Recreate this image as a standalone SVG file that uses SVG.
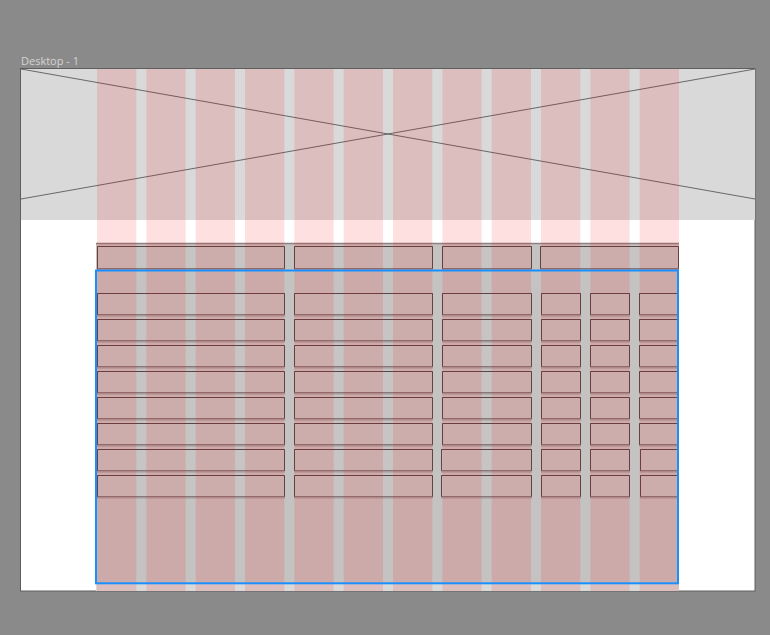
<svg xmlns="http://www.w3.org/2000/svg" width="770" height="635" viewBox="0 0 770 635">
  <defs>
    <style>
      .label { font-family: "Open Sans", "Liberation Sans", sans-serif; font-size: 11px; fill: #d4d4d4; }
      .col { fill: rgba(255,0,0,0.12); }
      .cell { fill: rgba(255,255,255,0.04); stroke: rgba(40,20,20,0.35); stroke-width: 1; }
      .edge { fill: none; stroke: #5a4646; stroke-width: 1; }
      .shadow { stroke: rgba(60,20,20,0.22); stroke-width: 2; }
      .diag { stroke: #4a4a4a; stroke-width: 0.8; }
    </style>
    <g id="cellshape"></g>
  </defs>

  <rect x="0" y="0" width="770" height="635" fill="#8a8a8a"/>

  <g id="artboard">
    <text class="label" x="21" y="65">Desktop - 1</text>
    <rect x="20.5" y="68.5" width="734.5" height="522.5" fill="#ffffff" stroke="#5e5e5e" stroke-width="1"/>
  </g>

  <g id="hero">
    <rect x="21" y="69" width="734" height="151" fill="#d9d9d9"/>
    <line class="diag" x1="21" y1="69" x2="755" y2="199"/>
    <line class="diag" x1="755" y1="69" x2="21" y2="199"/>
  </g>

  <g id="table-bg">
    <rect x="96" y="243" width="583" height="340" fill="#c5c2c2"/>
    <rect x="96" y="583" width="583" height="8" fill="#d9d9d9"/>
    <line x1="96" y1="243.5" x2="679" y2="243.5" stroke="#8f8282" stroke-width="1.5"/>
  </g>

  <g id="header-row">
    <g id="h1"><rect class="cell" x="97.5" y="246.5" width="187" height="22"/><path class="edge" d="M97.5 268.5V246.5H284.5V268.5"/><line class="shadow" x1="97" y1="269.5" x2="285" y2="269.5"/></g>
    <g id="h2"><rect class="cell" x="294.5" y="246.5" width="138" height="22"/><path class="edge" d="M294.5 268.5V246.5H432.5V268.5"/><line class="shadow" x1="294" y1="269.5" x2="433" y2="269.5"/></g>
    <g id="h3"><rect class="cell" x="442.5" y="246.5" width="89" height="22"/><path class="edge" d="M442.5 268.5V246.5H531.5V268.5"/><line class="shadow" x1="442" y1="269.5" x2="532" y2="269.5"/></g>
    <g id="h4"><rect class="cell" x="540.5" y="246.5" width="138" height="22"/><path class="edge" d="M540.5 268.5V246.5H678.5V268.5"/><line class="shadow" x1="540" y1="269.5" x2="679" y2="269.5"/></g>
  </g>

  <g id="rows">
    <g id="row1">
      <rect class="cell" x="97.5" y="293.5" width="187" height="21"/><path class="edge" d="M97.5 314.5V293.5H284.5V314.5"/><line class="shadow" x1="97" y1="315.5" x2="285" y2="315.5"/>
      <rect class="cell" x="294.5" y="293.5" width="138" height="21"/><path class="edge" d="M294.5 314.5V293.5H432.5V314.5"/><line class="shadow" x1="294" y1="315.5" x2="433" y2="315.5"/>
      <rect class="cell" x="442.5" y="293.5" width="89" height="21"/><path class="edge" d="M442.5 314.5V293.5H531.5V314.5"/><line class="shadow" x1="442" y1="315.5" x2="532" y2="315.5"/>
      <rect class="cell" x="541.5" y="293.5" width="39" height="21"/><path class="edge" d="M541.5 314.5V293.5H580.5V314.5"/><line class="shadow" x1="541" y1="315.5" x2="581" y2="315.5"/>
      <rect class="cell" x="590.5" y="293.5" width="39" height="21"/><path class="edge" d="M590.5 314.5V293.5H629.5V314.5"/><line class="shadow" x1="590" y1="315.5" x2="630" y2="315.5"/>
      <rect class="cell" x="639.5" y="293.5" width="39" height="21"/><path class="edge" d="M639.5 314.5V293.5H678.5V314.5"/><line class="shadow" x1="639" y1="315.5" x2="679" y2="315.5"/>
    </g>
    <g id="row2" transform="translate(0,26)">
      <rect class="cell" x="97.5" y="293.5" width="187" height="21"/><path class="edge" d="M97.5 314.5V293.5H284.5V314.5"/><line class="shadow" x1="97" y1="315.5" x2="285" y2="315.5"/>
      <rect class="cell" x="294.5" y="293.5" width="138" height="21"/><path class="edge" d="M294.5 314.5V293.5H432.5V314.5"/><line class="shadow" x1="294" y1="315.5" x2="433" y2="315.5"/>
      <rect class="cell" x="442.5" y="293.5" width="89" height="21"/><path class="edge" d="M442.5 314.5V293.5H531.5V314.5"/><line class="shadow" x1="442" y1="315.5" x2="532" y2="315.5"/>
      <rect class="cell" x="541.5" y="293.5" width="39" height="21"/><path class="edge" d="M541.5 314.5V293.5H580.5V314.5"/><line class="shadow" x1="541" y1="315.5" x2="581" y2="315.5"/>
      <rect class="cell" x="590.5" y="293.5" width="39" height="21"/><path class="edge" d="M590.5 314.5V293.5H629.5V314.5"/><line class="shadow" x1="590" y1="315.5" x2="630" y2="315.5"/>
      <rect class="cell" x="639.5" y="293.5" width="39" height="21"/><path class="edge" d="M639.5 314.5V293.5H678.5V314.5"/><line class="shadow" x1="639" y1="315.5" x2="679" y2="315.5"/>
    </g>
    <g id="row3" transform="translate(0,52)">
      <rect class="cell" x="97.5" y="293.5" width="187" height="21"/><path class="edge" d="M97.5 314.5V293.5H284.5V314.5"/><line class="shadow" x1="97" y1="315.5" x2="285" y2="315.5"/>
      <rect class="cell" x="294.5" y="293.5" width="138" height="21"/><path class="edge" d="M294.5 314.5V293.5H432.5V314.5"/><line class="shadow" x1="294" y1="315.5" x2="433" y2="315.5"/>
      <rect class="cell" x="442.5" y="293.5" width="89" height="21"/><path class="edge" d="M442.5 314.5V293.5H531.5V314.5"/><line class="shadow" x1="442" y1="315.5" x2="532" y2="315.5"/>
      <rect class="cell" x="541.5" y="293.5" width="39" height="21"/><path class="edge" d="M541.5 314.5V293.5H580.5V314.5"/><line class="shadow" x1="541" y1="315.5" x2="581" y2="315.5"/>
      <rect class="cell" x="590.5" y="293.5" width="39" height="21"/><path class="edge" d="M590.5 314.5V293.5H629.5V314.5"/><line class="shadow" x1="590" y1="315.5" x2="630" y2="315.5"/>
      <rect class="cell" x="639.5" y="293.5" width="39" height="21"/><path class="edge" d="M639.5 314.5V293.5H678.5V314.5"/><line class="shadow" x1="639" y1="315.5" x2="679" y2="315.5"/>
    </g>
    <g id="row4" transform="translate(0,78)">
      <rect class="cell" x="97.5" y="293.5" width="187" height="21"/><path class="edge" d="M97.5 314.5V293.5H284.5V314.5"/><line class="shadow" x1="97" y1="315.5" x2="285" y2="315.5"/>
      <rect class="cell" x="294.5" y="293.5" width="138" height="21"/><path class="edge" d="M294.5 314.5V293.5H432.5V314.5"/><line class="shadow" x1="294" y1="315.5" x2="433" y2="315.5"/>
      <rect class="cell" x="442.5" y="293.5" width="89" height="21"/><path class="edge" d="M442.5 314.5V293.5H531.5V314.5"/><line class="shadow" x1="442" y1="315.5" x2="532" y2="315.5"/>
      <rect class="cell" x="541.5" y="293.5" width="39" height="21"/><path class="edge" d="M541.5 314.5V293.5H580.5V314.5"/><line class="shadow" x1="541" y1="315.5" x2="581" y2="315.5"/>
      <rect class="cell" x="590.5" y="293.5" width="39" height="21"/><path class="edge" d="M590.5 314.5V293.5H629.5V314.5"/><line class="shadow" x1="590" y1="315.5" x2="630" y2="315.5"/>
      <rect class="cell" x="639.5" y="293.5" width="39" height="21"/><path class="edge" d="M639.5 314.5V293.5H678.5V314.5"/><line class="shadow" x1="639" y1="315.5" x2="679" y2="315.5"/>
    </g>
    <g id="row5" transform="translate(0,104)">
      <rect class="cell" x="97.5" y="293.5" width="187" height="21"/><path class="edge" d="M97.5 314.5V293.5H284.5V314.5"/><line class="shadow" x1="97" y1="315.5" x2="285" y2="315.5"/>
      <rect class="cell" x="294.5" y="293.5" width="138" height="21"/><path class="edge" d="M294.5 314.5V293.5H432.5V314.5"/><line class="shadow" x1="294" y1="315.5" x2="433" y2="315.5"/>
      <rect class="cell" x="442.5" y="293.5" width="89" height="21"/><path class="edge" d="M442.5 314.5V293.5H531.5V314.5"/><line class="shadow" x1="442" y1="315.5" x2="532" y2="315.5"/>
      <rect class="cell" x="541.5" y="293.5" width="39" height="21"/><path class="edge" d="M541.5 314.5V293.5H580.5V314.5"/><line class="shadow" x1="541" y1="315.5" x2="581" y2="315.5"/>
      <rect class="cell" x="590.5" y="293.5" width="39" height="21"/><path class="edge" d="M590.5 314.5V293.5H629.5V314.5"/><line class="shadow" x1="590" y1="315.5" x2="630" y2="315.5"/>
      <rect class="cell" x="639.5" y="293.5" width="39" height="21"/><path class="edge" d="M639.5 314.5V293.5H678.5V314.5"/><line class="shadow" x1="639" y1="315.5" x2="679" y2="315.5"/>
    </g>
    <g id="row6" transform="translate(0,130)">
      <rect class="cell" x="97.5" y="293.5" width="187" height="21"/><path class="edge" d="M97.5 314.5V293.5H284.5V314.5"/><line class="shadow" x1="97" y1="315.5" x2="285" y2="315.5"/>
      <rect class="cell" x="294.5" y="293.5" width="138" height="21"/><path class="edge" d="M294.5 314.5V293.5H432.5V314.5"/><line class="shadow" x1="294" y1="315.5" x2="433" y2="315.5"/>
      <rect class="cell" x="442.5" y="293.5" width="89" height="21"/><path class="edge" d="M442.5 314.5V293.5H531.5V314.5"/><line class="shadow" x1="442" y1="315.5" x2="532" y2="315.5"/>
      <rect class="cell" x="541.5" y="293.5" width="39" height="21"/><path class="edge" d="M541.5 314.5V293.5H580.5V314.5"/><line class="shadow" x1="541" y1="315.5" x2="581" y2="315.5"/>
      <rect class="cell" x="590.5" y="293.5" width="39" height="21"/><path class="edge" d="M590.5 314.5V293.5H629.5V314.5"/><line class="shadow" x1="590" y1="315.5" x2="630" y2="315.5"/>
      <rect class="cell" x="639.5" y="293.5" width="39" height="21"/><path class="edge" d="M639.5 314.5V293.5H678.5V314.5"/><line class="shadow" x1="639" y1="315.5" x2="679" y2="315.5"/>
    </g>
    <g id="row7" transform="translate(0,156)">
      <rect class="cell" x="97.5" y="293.5" width="187" height="21"/><path class="edge" d="M97.5 314.5V293.5H284.5V314.5"/><line class="shadow" x1="97" y1="315.5" x2="285" y2="315.5"/>
      <rect class="cell" x="294.5" y="293.5" width="138" height="21"/><path class="edge" d="M294.5 314.5V293.5H432.5V314.5"/><line class="shadow" x1="294" y1="315.5" x2="433" y2="315.5"/>
      <rect class="cell" x="441.5" y="293.5" width="90" height="21"/><path class="edge" d="M441.5 314.5V293.5H531.5V314.5"/><line class="shadow" x1="441" y1="315.5" x2="532" y2="315.5"/>
      <rect class="cell" x="541.5" y="293.5" width="39" height="21"/><path class="edge" d="M541.5 314.5V293.5H580.5V314.5"/><line class="shadow" x1="541" y1="315.5" x2="581" y2="315.5"/>
      <rect class="cell" x="590.5" y="293.5" width="39" height="21"/><path class="edge" d="M590.5 314.5V293.5H629.5V314.5"/><line class="shadow" x1="590" y1="315.5" x2="630" y2="315.5"/>
      <rect class="cell" x="640.5" y="293.5" width="38" height="21"/><path class="edge" d="M640.5 314.5V293.5H678.5V314.5"/><line class="shadow" x1="640" y1="315.5" x2="679" y2="315.5"/>
    </g>
    <g id="row8" transform="translate(0,182)">
      <rect class="cell" x="97.5" y="293.5" width="187" height="21"/><path class="edge" d="M97.5 314.5V293.5H284.5V314.5"/><line class="shadow" x1="97" y1="315.5" x2="285" y2="315.5"/>
      <rect class="cell" x="294.5" y="293.5" width="138" height="21"/><path class="edge" d="M294.5 314.5V293.5H432.5V314.5"/><line class="shadow" x1="294" y1="315.5" x2="433" y2="315.5"/>
      <rect class="cell" x="441.5" y="293.5" width="90" height="21"/><path class="edge" d="M441.5 314.5V293.5H531.5V314.5"/><line class="shadow" x1="441" y1="315.5" x2="532" y2="315.5"/>
      <rect class="cell" x="541.5" y="293.5" width="39" height="21"/><path class="edge" d="M541.5 314.5V293.5H580.5V314.5"/><line class="shadow" x1="541" y1="315.5" x2="581" y2="315.5"/>
      <rect class="cell" x="590.5" y="293.5" width="39" height="21"/><path class="edge" d="M590.5 314.5V293.5H629.5V314.5"/><line class="shadow" x1="590" y1="315.5" x2="630" y2="315.5"/>
      <rect class="cell" x="640.5" y="293.5" width="38" height="21"/><path class="edge" d="M640.5 314.5V293.5H678.5V314.5"/><line class="shadow" x1="640" y1="315.5" x2="679" y2="315.5"/>
    </g>
  </g>

  <g id="grid-columns">
    <rect class="col" x="97" y="69" width="39.33" height="522"/>
    <rect class="col" x="146.33" y="69" width="39.33" height="522"/>
    <rect class="col" x="195.67" y="69" width="39.33" height="522"/>
    <rect class="col" x="245" y="69" width="39.33" height="522"/>
    <rect class="col" x="294.33" y="69" width="39.33" height="522"/>
    <rect class="col" x="343.67" y="69" width="39.33" height="522"/>
    <rect class="col" x="393" y="69" width="39.33" height="522"/>
    <rect class="col" x="442.33" y="69" width="39.33" height="522"/>
    <rect class="col" x="491.67" y="69" width="39.33" height="522"/>
    <rect class="col" x="541" y="69" width="39.33" height="522"/>
    <rect class="col" x="590.33" y="69" width="39.33" height="522"/>
    <rect class="col" x="639.67" y="69" width="39.33" height="522"/>
  </g>

  <g id="selection">
    <rect x="96" y="270.5" width="582" height="312.8" fill="none" stroke="#1a8fff" stroke-width="2"/>
  </g>
</svg>
